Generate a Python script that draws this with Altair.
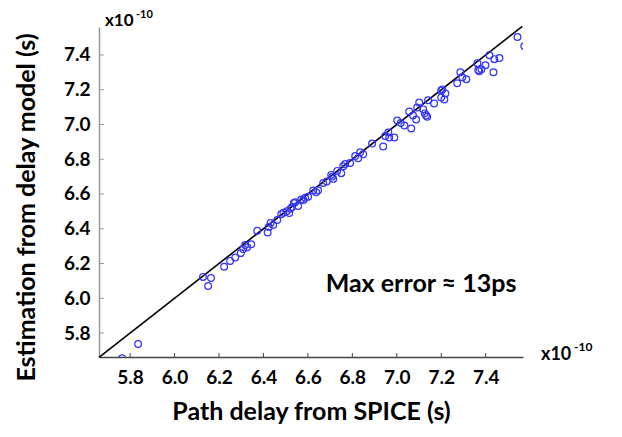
import altair as alt
import pandas as pd

# Path delay from SPICE (x1e-10 s)
spice = [5.764, 5.836, 6.128, 6.151, 6.164, 6.223, 6.250, 6.273, 6.298, 6.309,
         6.318, 6.327, 6.345, 6.372, 6.419, 6.424, 6.432, 6.444, 6.462, 6.480,
         6.490, 6.505, 6.516, 6.522, 6.529, 6.537, 6.543, 6.556, 6.570, 6.580,
         6.588, 6.601, 6.624, 6.637, 6.646, 6.669, 6.685, 6.705, 6.714, 6.710,
         6.732, 6.750, 6.759, 6.768, 6.790, 6.813, 6.826, 6.835, 6.849, 6.889,
         6.939, 6.948, 6.962, 6.966, 6.989, 7.002, 7.018, 7.034, 7.056, 7.065,
         7.073, 7.087, 7.092, 7.101, 7.119, 7.126, 7.132, 7.137, 7.141, 7.168,
         7.200, 7.205, 7.200, 7.219, 7.214, 7.272, 7.286, 7.295, 7.313, 7.363,
         7.367, 7.371, 7.381, 7.399, 7.417, 7.435, 7.439, 7.462, 7.543, 7.574]
# Estimation from delay model (x1e-10 s)
model = [5.655, 5.737, 6.123, 6.071, 6.117, 6.181, 6.215, 6.235, 6.260, 6.283,
         6.306, 6.294, 6.311, 6.388, 6.378, 6.410, 6.433, 6.422, 6.450, 6.484,
         6.492, 6.501, 6.490, 6.515, 6.525, 6.548, 6.552, 6.531, 6.568, 6.566,
         6.578, 6.584, 6.620, 6.610, 6.622, 6.663, 6.672, 6.710, 6.687, 6.700,
         6.733, 6.720, 6.760, 6.772, 6.778, 6.818, 6.806, 6.840, 6.829, 6.890,
         6.873, 6.934, 6.954, 6.925, 6.925, 7.023, 7.008, 6.994, 7.075, 6.977,
         7.052, 7.029, 7.098, 7.127, 7.087, 7.064, 7.052, 7.044, 7.139, 7.121,
         7.196, 7.202, 7.155, 7.179, 7.144, 7.237, 7.301, 7.272, 7.260, 7.353,
         7.313, 7.307, 7.318, 7.341, 7.399, 7.301, 7.376, 7.382, 7.503, 7.451]

ticks = [5.8, 6.0, 6.2, 6.4, 6.6, 6.8, 7.0, 7.2, 7.4]
diag = [5.66, 7.565]
x_dom = [5.66, 7.568]
y_dom = [5.662, 7.561]

W, H = 424, 330
FONT = "Lato"

pts = pd.DataFrame({"spice": spice, "model": model})
ddf = pd.DataFrame({"spice": diag, "model": diag})
tdf = pd.DataFrame({"t": ticks})

xs = alt.Scale(domain=x_dom, nice=False, zero=False)
ys = alt.Scale(domain=y_dom, nice=False, zero=False)

xaxis = alt.Axis(values=ticks, format=".1f", tickSize=0, labelPadding=11,
                 labelFont=FONT, labelFontSize=19, labelFontWeight="bold", labelColor="black",
                 domainColor="#444", domainWidth=1.5, grid=False,
                 title="Path delay from SPICE (s)", titleFont=FONT, titleFontSize=25,
                 titleFontWeight="bold", titleColor="black", titleY=54, titleBaseline="middle")
yaxis = alt.Axis(values=ticks, format=".1f", tickSize=0, labelPadding=9,
                 labelFont=FONT, labelFontSize=19, labelFontWeight="bold", labelColor="black",
                 domainColor="#999", domainWidth=1.5, grid=False,
                 title="Estimation from delay model (s)", titleFont=FONT, titleFontSize=25,
                 titleFontWeight="bold", titleColor="black", titleX=-73, titleY=180,
                 titleAngle=-90, titleAlign="center", titleBaseline="middle")

points = alt.Chart(pts).mark_point(shape="circle", filled=False, size=46, strokeWidth=1.2,
                                   opacity=1, color="#3535ff", clip=True).encode(
    x=alt.X("spice:Q", scale=xs, axis=xaxis),
    y=alt.Y("model:Q", scale=ys, axis=yaxis),
)

line = alt.Chart(ddf).mark_line(color="black", strokeWidth=1.6).encode(
    x=alt.X("spice:Q", scale=xs), y=alt.Y("model:Q", scale=ys))

xt = alt.Chart(tdf).mark_rule(color="#444", strokeWidth=1).encode(
    x=alt.X("t:Q", scale=xs), y=alt.value(H - 4), y2=alt.value(H))
yt = alt.Chart(tdf).mark_rule(color="#999", strokeWidth=1).encode(
    y=alt.Y("t:Q", scale=ys), x=alt.value(0), x2=alt.value(5))

def txt(s, x, y, size, align="left", baseline="alphabetic"):
    return alt.Chart(pd.DataFrame({"s": [s]})).mark_text(
        font=FONT, fontSize=size, fontWeight="bold", color="black",
        align=align, baseline=baseline).encode(
        text="s:N", x=alt.value(x), y=alt.value(y))

notes = [
    txt("x10", 6, -14, 17, baseline="top"),
    txt("-10", 37, -18, 11, baseline="top"),
    txt("x10", 442, 333, 18),
    txt("-10", 475, 324, 12),
    txt("Max error \u2248 13ps", 322, 265, 25, align="center"),
]

chart = alt.layer(xt, yt, line, points, *notes).properties(
    width=W, height=H,
    autosize=alt.AutoSizeParams(type="none"),
    padding={"left": 91, "top": 19, "right": 91, "bottom": 72},
).configure_view(stroke=None)

chart.save("out.html", embed_options={"renderer": "svg", "actions": False})
